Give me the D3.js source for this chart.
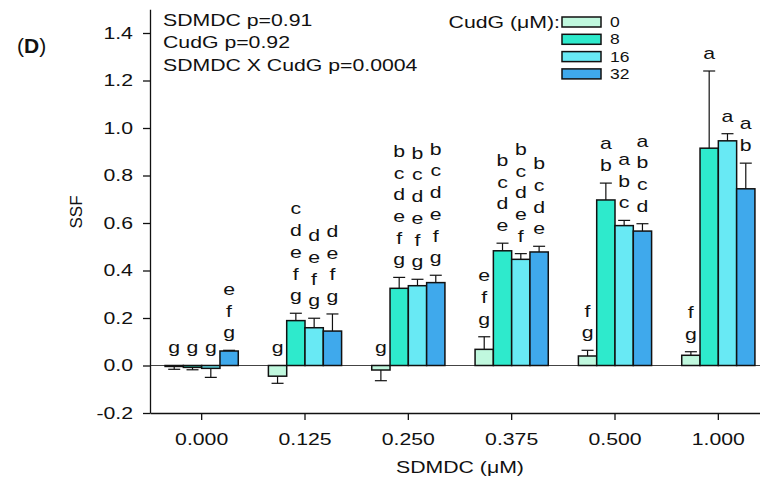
<!DOCTYPE html>
<html>
<head>
<meta charset="utf-8">
<script src="https://cdn.jsdelivr.net/npm/d3@7"></script>
<style>
  body { margin: 0; background: #fff; }
  svg text { font-family: "Liberation Sans", Arial, sans-serif; fill: #111; }
  /* the reference is stretched sideways, so the glyphs are widened a bit */
  .sx-start, .sx-mid, .sx-end { transform-box: fill-box; transform: scaleX(1.25); }
  .sx-start { transform-origin: left; }
  .sx-mid { transform-origin: center; }
  .sx-end { transform-origin: right; }
</style>
</head>
<body>
<div class="main"></div>
<script>
  //Data
  const groups = ['0.000', '0.125', '0.250', '0.375', '0.500', '1.000'];
  const series = ['0', '8', '16', '32'];
  const colors = ['#c0f8de', '#2eeacc', '#68e9f4', '#3fa9ec'];

  const mean0  = [-0.004, -0.045, -0.019, 0.068, 0.040, 0.043];
  const mean8  = [-0.008, 0.189, 0.325, 0.483, 0.697, 0.915];
  const mean16 = [-0.012, 0.159, 0.336, 0.447, 0.589, 0.946];
  const mean32 = [0.061, 0.145, 0.349, 0.478, 0.566, 0.744];

  const err0  = [0.012, 0.030, 0.045, 0.053, 0.024, 0.015];
  const err8  = [0.010, 0.031, 0.046, 0.032, 0.071, 0.325];
  const err16 = [0.038, 0.040, 0.027, 0.024, 0.022, 0.030];
  const err32 = [0.003, 0.072, 0.031, 0.024, 0.031, 0.108];

  const let0  = ['g', 'g', 'g', 'efg', 'fg', 'fg'];
  const let8  = ['g', 'cdefg', 'bcdefg', 'bcde', 'ab', 'a'];
  const let16 = ['g', 'defg', 'bcdefg', 'bcdef', 'abc', 'a'];
  const let32 = ['efg', 'defg', 'bcdefg', 'bcde', 'abcd', 'ab'];

  const yTicks = [-0.2, 0, 0.2, 0.4, 0.6, 0.8, 1.0, 1.2, 1.4];
  const stats = ['SDMDC p=0.91', 'CudG p=0.92', 'SDMDC X CudG p=0.0004'];

  const means = [mean0, mean8, mean16, mean32],
        errs = [err0, err8, err16, err32],
        lets = [let0, let8, let16, let32];

  const dataset = [];
  groups.forEach((g, gi) => {
    series.forEach((s, si) => {
      dataset.push({group: g, series: s, si: si,
                    v: means[si][gi], e: errs[si][gi], L: lets[si][gi]});
    });
  });

  //Variables
  const width = 760, height = 480;

  const svg = d3.select('.main')
                .append('svg')
                .attr('width', width)
                .attr('height', height);

  //Scales
  const yScale = d3.scaleLinear()
                   .domain([-0.2, 1.5])
                   .range([413, 9.25]);

  const xScale = d3.scaleBand()
                   .domain(groups)
                   .range([150, 770]);

  const step = xScale.bandwidth(),
        barGroup = 73.2;
  const xSub = d3.scaleBand()
                 .domain(series)
                 .range([(step - barGroup) / 2, (step + barGroup) / 2]);

  //Zero line
  svg.append('line')
     .attr('x1', 150).attr('x2', 770)
     .attr('y1', yScale(0)).attr('y2', yScale(0))
     .attr('stroke', '#444').attr('stroke-width', 1);

  //Error bars (one sided, away from zero)
  const eb = svg.append('g').attr('stroke', '#111').attr('stroke-width', 1.2);
  dataset.forEach(d => {
    const cx = xScale(d.group) + xSub(d.series) + xSub.bandwidth() / 2;
    const tip = d.v >= 0 ? d.v + d.e : d.v - d.e;
    eb.append('line').attr('x1', cx).attr('x2', cx)
      .attr('y1', yScale(d.v)).attr('y2', yScale(tip));
    eb.append('line').attr('x1', cx - 6).attr('x2', cx + 6)
      .attr('y1', yScale(tip)).attr('y2', yScale(tip));
  });

  //Bars
  svg.append('g')
     .selectAll('rect')
     .data(dataset)
     .enter()
     .append('rect')
     .attr('x', d => xScale(d.group) + xSub(d.series))
     .attr('width', xSub.bandwidth())
     .attr('y', d => yScale(Math.max(0, d.v)))
     .attr('height', d => Math.abs(yScale(d.v) - yScale(0)))
     .attr('fill', d => colors[d.si])
     .attr('stroke', '#111')
     .attr('stroke-width', 1.5);

  //Letters over the bars
  dataset.forEach(d => {
    const cx = xScale(d.group) + xSub(d.series) + xSub.bandwidth() / 2;
    const base = d.v >= 0 ? yScale(d.v + d.e) : yScale(0);
    const chars = d.L.split('');
    chars.forEach((c, i) => {
      svg.append('text')
         .attr('class', 'sx-mid')
         .attr('x', cx)
         .attr('y', base - 12 - (chars.length - 1 - i) * 21.7)
         .attr('text-anchor', 'middle')
         .attr('font-size', 17)
         .text(c);
    });
  });

  //Axes
  const yAxis = svg.append('g')
     .attr('transform', 'translate(150,0)')
     .call(d3.axisLeft(yScale).tickValues(yTicks)
             .tickFormat(d => d3.format('.1f')(d).replace('\u2212', '-'))
             .tickSize(7).tickSizeOuter(0).tickPadding(10));
  yAxis.selectAll('text').attr('class', 'sx-end').attr('font-size', 17)
       .attr('font-family', null);

  const xAxis = svg.append('g')
     .attr('transform', 'translate(0,413)')
     .call(d3.axisBottom(xScale).tickSize(7).tickSizeOuter(0).tickPadding(13));
  xAxis.selectAll('text').attr('class', 'sx-mid').attr('font-size', 17)
       .attr('font-family', null);
  svg.selectAll('.domain, .tick line').attr('stroke', '#111').attr('stroke-width', 1.3);

  //Axis titles
  svg.append('text')
     .attr('class', 'sx-mid')
     .attr('x', 460).attr('y', 473)
     .attr('text-anchor', 'middle')
     .attr('font-size', 17)
     .text('SDMDC (\u03bcM)');

  svg.append('text')
     .attr('transform', 'translate(82,212) rotate(-90)')
     .attr('text-anchor', 'middle')
     .attr('font-size', 17)
     .text('SSF');

  //Panel letter
  const panel = svg.append('text')
     .attr('x', 17).attr('y', 53)
     .attr('font-size', 21);
  panel.append('tspan').text('(');
  panel.append('tspan').attr('font-weight', 'bold').text('D');
  panel.append('tspan').text(')');

  //Stats
  svg.selectAll('.stat')
     .data(stats)
     .enter()
     .append('text')
     .attr('class', 'sx-start stat')
     .attr('x', 163)
     .attr('y', (d, i) => 26 + i * 22.5)
     .attr('font-size', 17)
     .text(d => d);

  //Legend
  svg.append('text')
     .attr('class', 'sx-end')
     .attr('x', 560).attr('y', 28)
     .attr('text-anchor', 'end')
     .attr('font-size', 17)
     .text('CudG (\u03bcM):');

  const legend = svg.append('g')
     .selectAll('g')
     .data(series)
     .enter()
     .append('g')
     .attr('transform', (d, i) => `translate(562, ${17 + i * 17.3})`);
  legend.append('rect')
     .attr('width', 39).attr('height', 10)
     .attr('fill', (d, i) => colors[i])
     .attr('stroke', '#111').attr('stroke-width', 1.5);
  legend.append('text')
     .attr('class', 'sx-start')
     .attr('x', 48).attr('y', 10)
     .attr('font-size', 14)
     .text(d => d);
</script>
</body>
</html>
